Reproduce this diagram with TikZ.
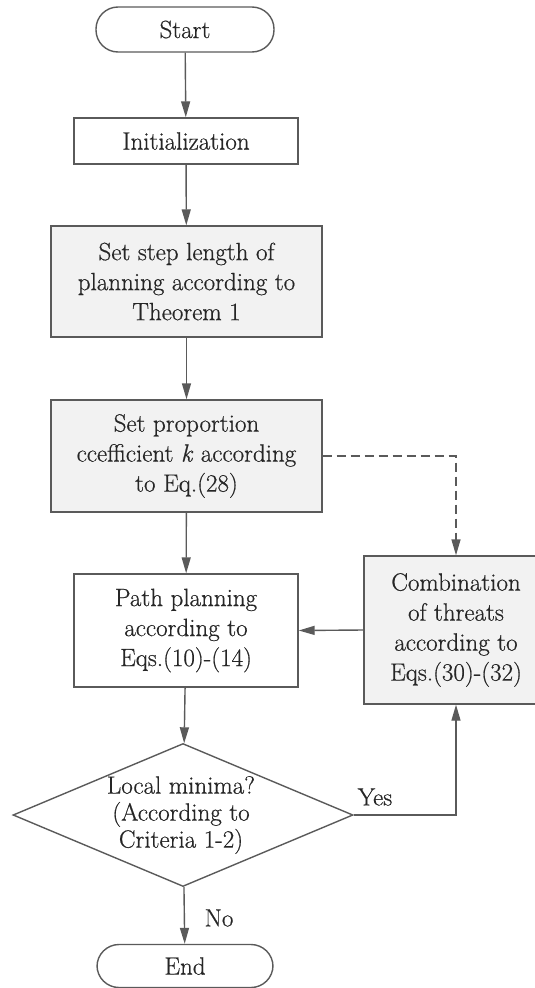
\documentclass[tikz,border=0pt]{standalone}
\usepackage{fontspec}
\setmainfont{Latin Modern Roman}[FakeBold=0.6]
\usetikzlibrary{arrows.meta,shapes.geometric}
\definecolor{ln}{HTML}{5A5A5A}
\definecolor{bx}{HTML}{F2F2F2}
\definecolor{tx}{HTML}{262626}
\begin{document}
\begin{tikzpicture}[x=1pt,y=-1pt,
  every node/.style={font=\fontsize{25}{30}\selectfont, text=tx},
  box/.style={draw=ln, line width=1.4pt, inner sep=0pt, align=center},
  graybox/.style={box, fill=bx},
  term/.style={box, rounded corners=22pt},
  arr/.style={draw=ln, line width=1.4pt, -{Triangle[length=16pt,width=9pt]}},
  lab/.style={inner sep=0pt}]
\useasboundingbox (0,0) rectangle (535,988);
\node[term, minimum width=178pt, minimum height=45pt] (start) at (185,29.5) {Start};
\node[box, minimum width=224pt, minimum height=46pt] (init) at (186,141) {Initialization};
\node[graybox, minimum width=271pt, minimum height=111pt] (step) at (186.5,281.5) {Set step length of\\planning according to\\Theorem 1};
\node[graybox, minimum width=271pt, minimum height=112pt] (prop) at (186.5,456) {Set proportion\\ccefficient \textit{k} according\\to Eq.(28)};
\node[box, minimum width=224pt, minimum height=113pt] (path) at (186,630.5) {Path planning\\according to\\Eqs.(10)-(14)};
\node[graybox, minimum width=184pt, minimum height=148pt] (comb) at (456,630) {Combination\\of threats\\according to\\Eqs.(30)-(32)};
\node[diamond, draw=ln, line width=1.4pt, minimum width=340pt, minimum height=143pt, inner sep=0pt] (dec) at (183,815) {};
\node[align=center, inner sep=0pt, font=\fontsize{25}{27}\selectfont] (dectext) at (181,815) {Local minima?\\(According to\\Criteria 1-2)};
\node[term, minimum width=176pt, minimum height=43pt] (end) at (185,966) {End};
\node[lab] (yes) at (375,797) {Yes};
\node[lab] (no) at (219,918) {No};
\draw[arr] (start) -- (init);
\draw[arr] (init) -- (step);
\draw[arr] (step) -- (prop);
\draw[arr] (prop) -- (path);
\draw[arr] (path) -- (dec);
\draw[arr] (dec) -- (end);
\draw[arr, dash pattern=on 9pt off 5pt] (prop.east) -| (comb.north);
\draw[arr] (comb.west) -- (path.east);
\draw[arr] (dec.east) -| (comb.south);
\end{tikzpicture}
\end{document}
